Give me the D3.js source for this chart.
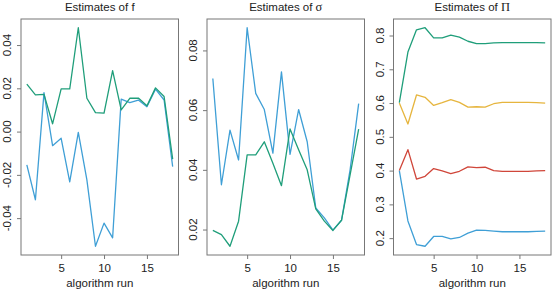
<!DOCTYPE html>
<html>
<head>
<meta charset="utf-8">
<script src="https://cdn.jsdelivr.net/npm/d3@7"></script>
<style>
  body { margin: 0; background: #fff; }
  text { font-family: "Liberation Sans", Arial, sans-serif; fill: #222; }
</style>
</head>
<body>
<svg id="fig" width="553" height="293"></svg>
<script>
// algorithm runs (x axis)
const runs = [1, 2, 3, 4, 5, 6, 7, 8, 9, 10, 11, 12, 13, 14, 15, 16, 17, 18];
const xTicks = [5, 10, 15];

// estimates of f
const fBlue = [-0.0154, -0.0315, 0.0180, -0.0065, -0.0031, -0.0232, -0.0004, -0.0223, -0.0530, -0.0423, -0.0491, 0.0150, 0.0134, 0.0146, 0.0115, 0.0196, 0.0146, -0.0162];
const fGreen = [0.0219, 0.0170, 0.0172, 0.0036, 0.0197, 0.0197, 0.0480, 0.0154, 0.0088, 0.0085, 0.0282, 0.0100, 0.0154, 0.0155, 0.0119, 0.0202, 0.0162, -0.0127];
const fTicks = [-0.04, -0.02, 0.00, 0.02, 0.04];

// estimates of sigma
const sigmaBlue = [0.0706, 0.0350, 0.0533, 0.0433, 0.0876, 0.0656, 0.0602, 0.0456, 0.0728, 0.0452, 0.0602, 0.0494, 0.0272, 0.0239, 0.0198, 0.0231, 0.0400, 0.0622];
const sigmaGreen = [0.0197, 0.0183, 0.0144, 0.0228, 0.0450, 0.0450, 0.0494, 0.0422, 0.0347, 0.0537, 0.0467, 0.0400, 0.0269, 0.0228, 0.0197, 0.0231, 0.0383, 0.0536];
const sigmaTicks = [0.02, 0.04, 0.06, 0.08];

// estimates of Pi
const piGreen = [0.601, 0.751, 0.817, 0.823, 0.793, 0.793, 0.801, 0.795, 0.783, 0.776, 0.776, 0.778, 0.779, 0.779, 0.779, 0.779, 0.779, 0.778];
const piYellow = [0.600, 0.538, 0.624, 0.617, 0.593, 0.601, 0.610, 0.602, 0.588, 0.589, 0.588, 0.598, 0.602, 0.602, 0.602, 0.602, 0.601, 0.600];
const piRed = [0.400, 0.462, 0.375, 0.383, 0.406, 0.399, 0.391, 0.398, 0.411, 0.409, 0.410, 0.400, 0.398, 0.398, 0.398, 0.398, 0.399, 0.400];
const piBlue = [0.400, 0.251, 0.181, 0.176, 0.205, 0.205, 0.198, 0.202, 0.215, 0.224, 0.223, 0.221, 0.219, 0.219, 0.219, 0.219, 0.220, 0.221];
const piTicks = [0.2, 0.3, 0.4, 0.5, 0.6, 0.7, 0.8];

const BLUE = '#3f9fd6';
const GREEN = '#1f9e7a';
const YELLOW = '#e6b53e';
const RED = '#d0463a';

const svg = d3.select('#fig');

// R style range: data extent plus 4% each side
function rRange (vals) {
    const [lo, hi] = d3.extent(vals);
    const pad = (hi - lo) * 0.04;
    return [lo - pad, hi + pad];
}

function painel (left, titulo, simbolo, series, yTicks, fmt) {
    const width = 157.5;
    const top = 19, bottom = 255;
    const g = svg.append('g').attr('transform', `translate(${left}, 0)`);

    const xScale = d3.scaleLinear().domain(rRange(runs)).range([0, width]);
    const allVals = series.flatMap((s) => s.values);
    const yScale = d3.scaleLinear().domain(rRange(allVals)).range([bottom, top]);

    /*eixo x*/
    const xAxis = g.append('g')
        .attr('transform', `translate(0, ${bottom})`)
        .call(d3.axisBottom(xScale).tickValues(xTicks).tickSize(4).tickPadding(5).tickFormat(d3.format('d')));
    xAxis.select('.domain').remove();
    xAxis.selectAll('line').attr('stroke', '#777');
    xAxis.selectAll('text').attr('font-size', '11.5px').attr('fill', '#222');

    /*eixo y, rotated labels*/
    const yAxis = g.append('g')
        .call(d3.axisLeft(yScale).tickValues(yTicks).tickSize(4).tickFormat(''));
    yAxis.select('.domain').remove();
    yAxis.selectAll('line').attr('stroke', '#777');
    g.selectAll('.ylab')
        .data(yTicks)
        .enter()
        .append('text')
        .attr('class', 'ylab')
        .attr('transform', (d) => `translate(-10, ${yScale(d)}) rotate(-90)`)
        .attr('text-anchor', 'middle')
        .attr('font-size', '11.5px')
        .text((d) => d3.format(fmt)(d).replace('−', '-'));

    /*linhas*/
    const line = d3.line()
        .x((d, i) => xScale(runs[i]))
        .y((d) => yScale(d));
    series.forEach((s) => {
        g.append('path')
            .attr('d', line(s.values))
            .attr('fill', 'none')
            .attr('stroke', s.color)
            .attr('stroke-width', 1.3)
            .attr('stroke-linejoin', 'round');
    });

    /*box*/
    g.append('rect')
        .attr('x', 0).attr('y', top)
        .attr('width', width).attr('height', bottom - top)
        .attr('fill', 'none')
        .attr('stroke', '#777')
        .attr('stroke-width', 1);

    const t = g.append('text')
        .attr('x', width / 2).attr('y', 11)
        .attr('text-anchor', 'middle')
        .attr('font-size', '11.5px');
    t.append('tspan').text(titulo);
    t.append('tspan')
        .attr('font-family', simbolo == 'f' ? null : '"Liberation Serif", serif')
        .attr('font-size', simbolo == 'f' ? null : '12.5px')
        .text(simbolo);

    g.append('text')
        .attr('x', width / 2).attr('y', bottom + 31.5)
        .attr('text-anchor', 'middle')
        .attr('font-size', '11.5px')
        .text('algorithm run');
}

painel(21, 'Estimates of ', 'f', [
    { values: fBlue, color: BLUE },
    { values: fGreen, color: GREEN }
], fTicks, '.2f');

painel(207, 'Estimates of ', 'σ', [
    { values: sigmaBlue, color: BLUE },
    { values: sigmaGreen, color: GREEN }
], sigmaTicks, '.2f');

painel(393.5, 'Estimates of ', 'Π', [
    { values: piBlue, color: BLUE },
    { values: piRed, color: RED },
    { values: piYellow, color: YELLOW },
    { values: piGreen, color: GREEN }
], piTicks, '.1f');
</script>
</body>
</html>
